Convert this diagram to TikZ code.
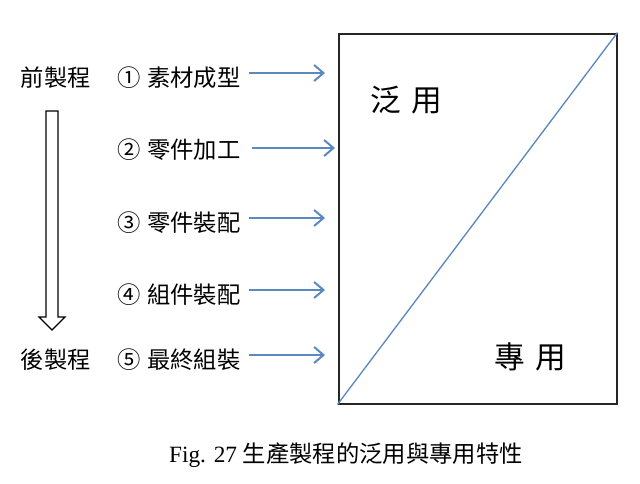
\documentclass[tikz,border=0pt]{standalone}
\usepackage{fontspec}
\setmainfont{Liberation Serif}
\newfontfamily\cjk{Noto Sans CJK TC}
\usetikzlibrary{arrows.meta}
\definecolor{arrowblue}{HTML}{5B88BE}
\begin{document}
\begin{tikzpicture}[x=0.75pt,y=-0.75pt,
  lbl/.style={font=\cjk\fontsize{17.5}{19}\selectfont, inner sep=0pt},
  big/.style={font=\cjk\fontsize{23}{26}\selectfont, inner sep=0pt},
  feed/.style={draw=arrowblue, line width=1.5pt, -{Straight Barb[length=7pt,width=12pt,line width=1.5pt]}}]
\useasboundingbox (0,0) rectangle (640,483);
\fill[white] (0,0) rectangle (640,483);
% box
\node[draw=black!85, line width=1.5pt, minimum width=278*0.75pt, minimum height=370*0.75pt, inner sep=0pt, anchor=north west] (box) at (337.5,32.5) {};
\draw[arrowblue, line width=1pt] (box.south west) -- (box.north east);
\node[big] (gen) at (406,100) {泛\,\,用};
\node[big] (ded) at (530,357) {專\,\,用};
% stage labels
\node[lbl] (pre) at (56,78) {前製程};
\node[lbl] (post) at (56,360) {後製程};
% hollow arrow
\draw[line width=1pt] (46,111) -- (58,111) -- (58,317) -- (65,317) -- (52,330) -- (39,317) -- (46,317) -- cycle;
% steps
\node[lbl, anchor=west] (s1) at (117,78) {①\hspace{5pt}素材成型};
\node[lbl, anchor=west] (s2) at (117,150) {②\hspace{5pt}零件加工};
\node[lbl, anchor=west] (s3) at (117,223) {③\hspace{5pt}零件裝配};
\node[lbl, anchor=west] (s4) at (117,295) {④\hspace{5pt}組件裝配};
\node[lbl, anchor=west] (s5) at (117,360) {⑤\hspace{5pt}最終組裝};
\coordinate (e1) at (325,73);
\coordinate (e2) at (335,148);
\coordinate (e3) at (325,218);
\coordinate (e4) at (325,290);
\coordinate (e5) at (325,355);
\draw[feed] (249,73) -- (e1);
\draw[feed] (252,148) -- (e2);
\draw[feed] (249,218) -- (e3);
\draw[feed] (249,290) -- (e4);
\draw[feed] (249,355) -- (e5);
% caption
\node[inner sep=0pt, font=\fontsize{17.5}{19}\selectfont] (cap) at (346,455) {Fig. 27 {\cjk 生產製程的泛用與專用特性}};
\end{tikzpicture}
\end{document}
